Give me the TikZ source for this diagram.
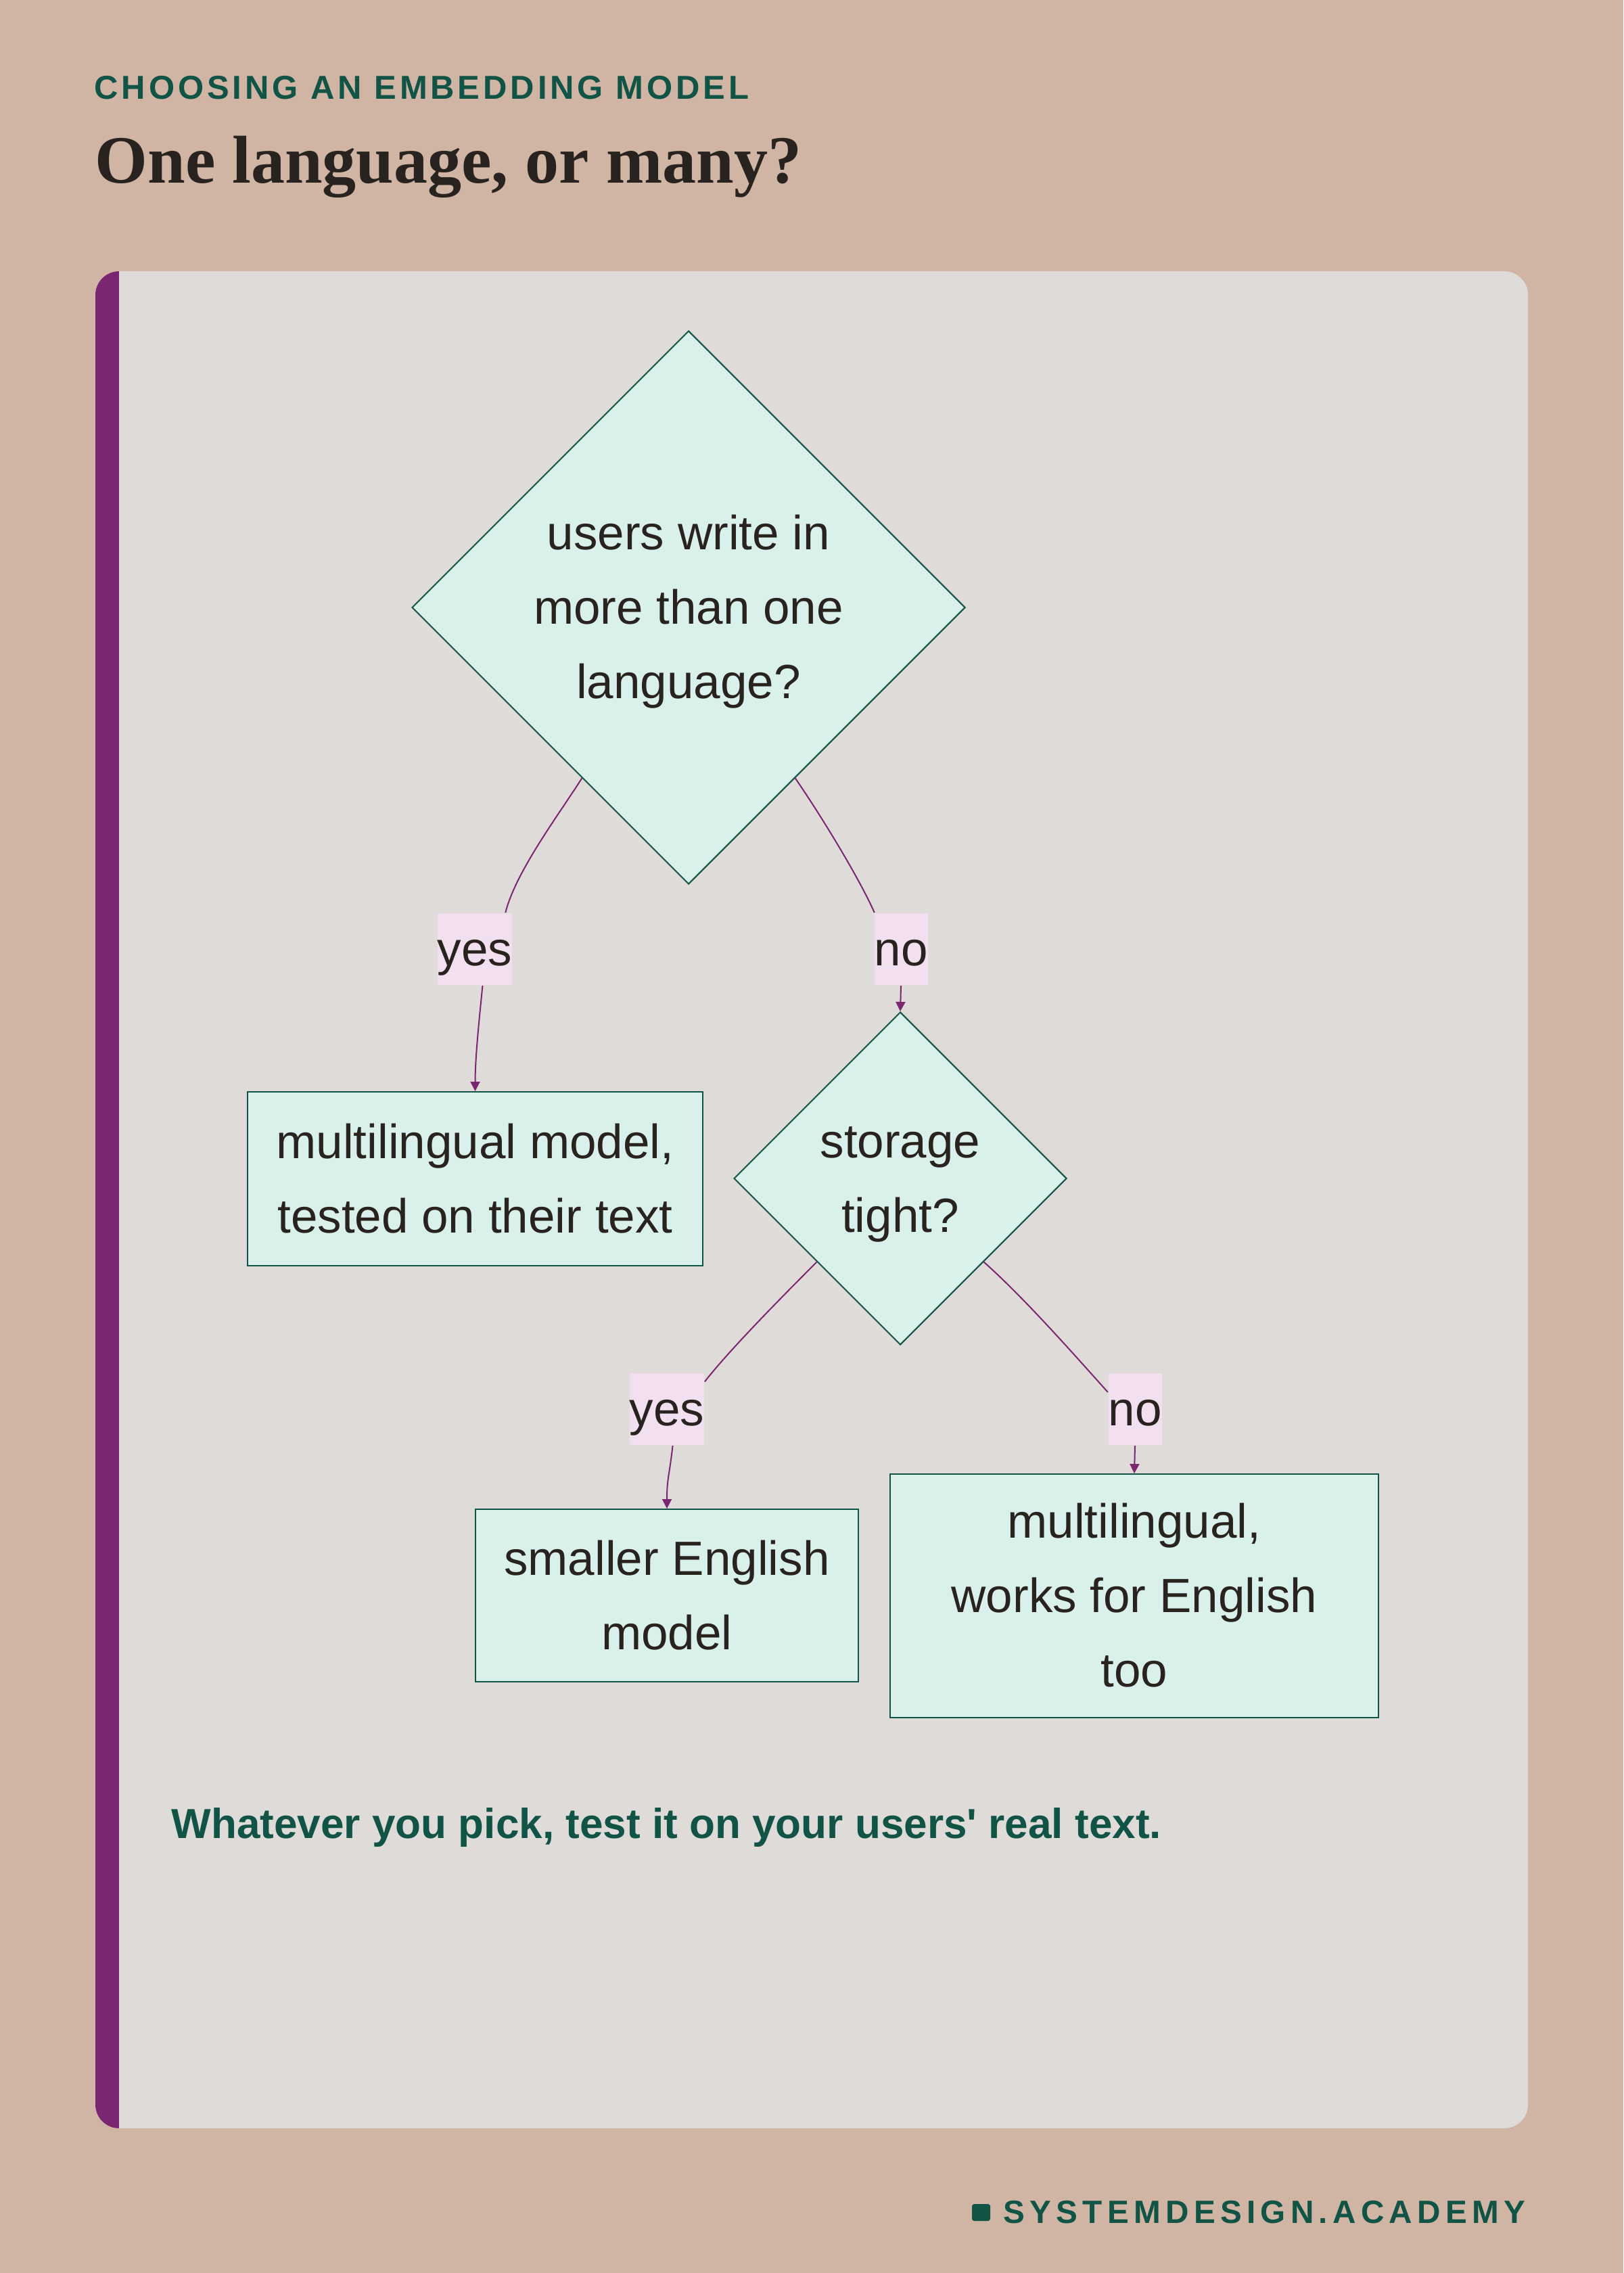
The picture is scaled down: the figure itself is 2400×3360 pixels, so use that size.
\documentclass[tikz,border=0pt]{standalone}
\usepackage{fontspec}
\setmainfont{Liberation Sans}
\newfontfamily\headserif{Liberation Serif}
\newfontfamily\kickerfont[LetterSpace=10]{Liberation Sans}
\newfontfamily\brandfont[LetterSpace=15.3]{Liberation Sans}
\newfontfamily\notefont[Ligatures=TeXOff]{Liberation Sans}
\usetikzlibrary{shapes.geometric,arrows.meta}

\definecolor{pagetan}{RGB}{208,181,165}
\definecolor{cardgrey}{RGB}{223,219,216}
\definecolor{plum}{RGB}{123,38,112}
\definecolor{inkgreen}{RGB}{17,83,69}
\definecolor{inkdark}{RGB}{40,35,30}
\definecolor{mintfill}{RGB}{217,240,235}
\definecolor{labelpink}{RGB}{242,223,239}

\newcommand{\boxfont}{\fontsize{21.3pt}{31.95pt}\selectfont}
\newcommand{\ls}{\rule[-8.6pt]{0pt}{32pt}}

\begin{document}
\begin{tikzpicture}[x=0.3pt,y=0.3pt,yscale=-1,xscale=1,
	decision/.style={diamond, aspect=1, draw=inkgreen, fill=mintfill, line width=0.6pt, inner sep=0pt, align=center, text=inkdark, font=\boxfont},
	outcome/.style={rectangle, draw=inkgreen, fill=mintfill, line width=0.6pt, inner sep=0pt, align=center, text=inkdark, font=\boxfont},
	answer/.style={rectangle, fill=labelpink, inner xsep=0pt, inner ysep=0pt, text height=23.4pt, text depth=8.6pt, text=inkdark, font=\boxfont},
	flow/.style={draw=plum, line width=0.6pt},
	flowtip/.style={flow, -{Triangle[length=4.2pt,width=4.2pt]}}]
	%set diagram to the size of the page, 2400 x 3360
	\useasboundingbox (0,0) rectangle (2400,3360);
	\fill[pagetan] (0,0) rectangle (2400,3360);
	
	%Shape: Card
	\fill[cardgrey, rounded corners=10.5pt] (141,401) rectangle (2259,3146);
	%Shape: Card edge
	\begin{scope}
		\clip[rounded corners=10.5pt] (141,401) rectangle (2259,3146);
		\fill[plum] (141,401) rectangle (176,3146);
	\end{scope}
	
	% Text Node
	\node[anchor=base west, inner sep=0pt, text=inkgreen] (kicker) at (139,147) {\kickerfont\bfseries\fontsize{14.7pt}{17pt}\selectfont CHOOSING AN EMBEDDING MODEL};
	% Text Node
	\node[anchor=base west, inner sep=0pt, text=inkdark] (title) at (140,271) {\headserif\bfseries\fontsize{30pt}{36pt}\selectfont One language, or many?};
	
	%Shape: Decisions
	\node[decision, minimum size=245.4pt] (multi) at (1018,898) {\ls users write in\\\ls more than one\\\ls language?};
	\node[decision, minimum size=147.6pt] (storage) at (1331,1742) {\ls storage\\\ls tight?};
	
	%Shape: Outcomes
	\node[outcome, minimum width=201.9pt, minimum height=77.1pt] (multimodel) at (702.5,1742.5) {\ls multilingual model,\\\ls tested on their text};
	\node[outcome, minimum width=169.8pt, minimum height=76.5pt] (smallmodel) at (986,2358.5) {\ls smaller English\\\ls model};
	\node[outcome, minimum width=216.6pt, minimum height=108pt] (multienglish) at (1677,2359) {\ls multilingual,\\\ls works for English\\\ls too};
	
	% Text Node: edge labels
	\node[answer] (yesmulti) at (702,1403) {yes};
	\node[answer] (nomulti) at (1332,1403) {no};
	\node[answer] (yesstorage) at (986,2083) {yes};
	\node[answer] (nostorage) at (1678,2083) {no};
	
	%Straight Lines: edges through their labels
	\draw[flow] (multi.238) .. controls +(-35,55) and +(15,-60) .. (yesmulti.50);
	\draw[flowtip] (yesmulti.282) .. controls +(-5,50) and +(0,-50) .. (multimodel.north);
	\draw[flow] (multi.302) .. controls +(38,55) and +(-22,-50) .. (nomulti.126);
	\draw[flowtip] (nomulti.south) -- (storage.north);
	\draw[flow] (storage.225) .. controls +(-55,55) and +(35,-45) .. (yesstorage.36);
	\draw[flowtip] (yesstorage.279) .. controls +(-5,45) and +(0,-45) .. (smallmodel.north);
	\draw[flow] (storage.315) .. controls +(60,53) and +(-45,-50) .. (nostorage.148);
	\draw[flowtip] (nostorage.south) -- (multienglish.north);
	
	% Text Node
	\node[anchor=base west, inner sep=0pt, text=inkgreen] (advice) at (253,2717) {\notefont\bfseries\fontsize{18.62pt}{22pt}\selectfont Whatever you pick, test it on your users' real text.};
	
	%Shape: Brand mark
	\fill[inkgreen, rounded corners=1pt] (1437,3258) rectangle (1464,3283);
	% Text Node
	\node[anchor=base west, inner sep=0pt, text=inkgreen] (brand) at (1483,3286) {\brandfont\bfseries\fontsize{14.3pt}{17pt}\selectfont SYSTEMDESIGN.ACADEMY};
	
\end{tikzpicture}
\end{document}
